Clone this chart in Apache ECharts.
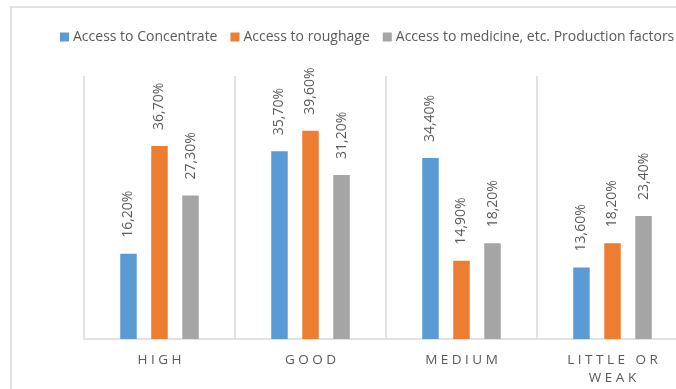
<!DOCTYPE html>
<html>
<head>
<meta charset="utf-8">
<script src="https://cdn.jsdelivr.net/npm/echarts@6/dist/echarts.min.js"></script>
<style>
  html, body { margin: 0; padding: 0; background: #fff; overflow: hidden; }
  #chart { width: 700px; height: 389px; }
</style>
</head>
<body>
<div id="chart"></div>
<script>
// Categories and series values (percent)
const categories = ['HIGH', 'GOOD', 'MEDIUM', 'LITTLE OR WEAK'];
const seriesNames = [
  'Access to Concentrate',
  'Access to roughage',
  'Access to medicine, etc. Production factors'
];
const concentrate = [16.2, 35.7, 34.4, 13.6];
const roughage = [36.7, 39.6, 14.9, 18.2];
const medicine = [27.3, 31.2, 18.2, 23.4];
const colors = ['#5b9bd5', '#ed7d31', '#a5a5a5'];

const FONT = '"Open Sans", "Noto Sans", sans-serif';
const TEXT = '#595959';
const LINE = '#d9d9d9';

// Spread letters apart; long labels wrap before the last word
function spaced(name) {
  const words = name.split(' ').map(w => w.split('').join(' '));
  if (words.length > 2) {
    return words.slice(0, -1).join('   ') + '\n' + words[words.length - 1];
  }
  return words.join('   ');
}

function pct(v) {
  return v.toFixed(2).replace('.', ',') + '%';
}

function barSeries(name, data, color) {
  return {
    name: name,
    type: 'bar',
    data: data,
    barWidth: 16.5,
    barGap: '88%',
    itemStyle: { color: color },
    label: {
      show: true,
      position: 'top',
      rotate: 90,
      align: 'left',
      verticalAlign: 'middle',
      distance: 16,
      color: TEXT,
      fontFamily: FONT,
      fontSize: 14,
      formatter: p => pct(p.value)
    }
  };
}

const chart = echarts.init(document.getElementById('chart'), null, { renderer: 'canvas' });
chart.setOption({
  animation: false,
  backgroundColor: '#fff',
  graphic: [{
    type: 'rect',
    shape: { x: 11, y: 7, width: 720, height: 420 },
    style: { fill: 'none', stroke: LINE, lineWidth: 1.5 },
    z: -1
  }],
  legend: {
    data: seriesNames,
    left: 55,
    top: 25,
    width: 640,
    icon: 'rect',
    itemWidth: 9,
    itemHeight: 9,
    itemGap: 13,
    textStyle: { color: TEXT, fontFamily: FONT, fontSize: 14, padding: [0, 0, 0, -1] }
  },
  grid: { left: 84, top: 76, width: 604, height: 263, outerBoundsMode: 'none', containLabel: false },
  xAxis: {
    type: 'category',
    data: categories,
    axisLine: { lineStyle: { color: LINE, width: 1.5 } },
    axisTick: { show: false },
    splitLine: { show: true, lineStyle: { color: LINE, width: 1.5 } },
    axisLabel: {
      color: TEXT,
      fontFamily: FONT,
      fontSize: 13.5,
      lineHeight: 18,
      margin: 12,
      interval: 0,
      formatter: spaced
    }
  },
  yAxis: {
    type: 'value',
    min: 0,
    max: 50,
    show: false,
    splitLine: { show: false }
  },
  series: [
    barSeries(seriesNames[0], concentrate, colors[0]),
    barSeries(seriesNames[1], roughage, colors[1]),
    barSeries(seriesNames[2], medicine, colors[2])
  ]
});
</script>
</body>
</html>
